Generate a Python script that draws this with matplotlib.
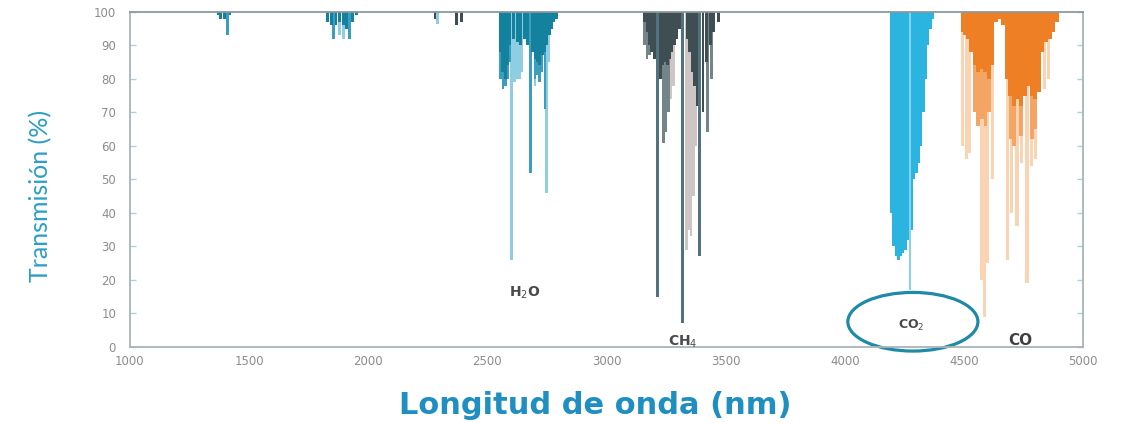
import matplotlib.pyplot as plt
from matplotlib.patches import Ellipse

# H2O absorption (nm, transmission %)
h2o_dark_wl = [1370, 1380, 1395, 1420, 1830, 1845, 1865, 1880, 1895, 1910, 1935, 1950,
               2555, 2565, 2575, 2585, 2595, 2610, 2625, 2640, 2655, 2670, 2690, 2700,
               2710, 2720, 2730, 2740, 2750, 2760, 2770, 2780, 2790]
h2o_dark_t = [99, 98, 98, 99, 97, 96, 96, 97, 96, 95, 97, 99,
              88, 82, 80, 84, 90, 92, 91, 90, 92, 90, 88, 86,
              85, 84, 87, 88, 90, 93, 95, 97, 98]
h2o_mid_wl = [1410, 1855, 1922, 2555, 2565, 2575, 2585, 2595, 2680, 2700, 2710, 2720, 2730, 2742]
h2o_mid_t = [93, 92, 92, 80, 77, 78, 80, 85, 52, 80, 81, 79, 82, 71]
h2o_light_wl = [1880, 1895, 2290, 2603, 2615, 2625, 2635, 2645, 2700, 2748, 2758]
h2o_light_t = [93, 92, 96.5, 26, 79, 80, 80, 82, 78, 46, 85]

# CH4 absorption
ch4_dark_wl = [2280, 2372, 2390, 3160, 3170, 3180, 3190, 3200, 3225, 3235, 3245, 3255, 3265,
               3275, 3285, 3295, 3305, 3340, 3350, 3360, 3370, 3380, 3405, 3420, 3435,
               3450, 3470]
ch4_dark_t = [98, 96, 97, 97, 94, 90, 88, 86, 80, 84, 85, 84, 86,
              88, 90, 92, 95, 92, 88, 82, 78, 72, 70, 85, 90,
              94, 97]
ch4_mid_wl = [3160, 3170, 3180, 3240, 3250, 3260, 3425, 3440]
ch4_mid_t = [90, 86, 87, 61, 64, 70, 64, 80]
ch4_light_wl = [3270, 3280, 3335, 3345, 3355, 3365, 3375]
ch4_light_t = [74, 78, 29, 35, 33, 45, 60]
ch4_line_wl = [3215, 3320, 3392]
ch4_line_t = [15, 7, 27]

# CO2 absorption
co2_wl = [4195, 4205, 4215, 4225, 4235, 4245, 4255, 4265, 4280, 4290, 4300, 4310,
          4320, 4330, 4340, 4350, 4360, 4370]
co2_t = [40, 30, 27, 26, 27, 28, 29, 32, 35, 50, 52, 55,
         60, 70, 80, 90, 95, 98]
co2_line_wl = [4275]
co2_line_t = [17]

# CO absorption
co_dark_wl = [4495, 4505, 4515, 4530, 4545, 4560, 4575, 4590, 4605, 4620, 4635, 4650,
              4665, 4680, 4695, 4710, 4725, 4740, 4755, 4770, 4785, 4800, 4815, 4830,
              4845, 4860, 4875, 4890]
co_dark_t = [94, 93, 92, 88, 84, 82, 83, 82, 80, 84, 97, 98,
             96, 80, 75, 72, 74, 72, 75, 78, 75, 74, 76, 88,
             91, 92, 94, 97]
co_mid_wl = [4545, 4560, 4575, 4590, 4605, 4695, 4710, 4740, 4785, 4800]
co_mid_t = [70, 66, 68, 66, 70, 62, 60, 63, 62, 65]
co_light_wl = [4495, 4510, 4525, 4575, 4588, 4600, 4620, 4685, 4700, 4723, 4740, 4765,
               4785, 4800, 4840, 4855]
co_light_t = [60, 56, 58, 20, 9, 25, 50, 26, 40, 36, 55, 19,
              54, 56, 77, 80]

x_ticks = [1000, 1500, 2000, 2500, 3000, 3500, 4000, 4500, 5000]
y_ticks = [0, 10, 20, 30, 40, 50, 60, 70, 80, 90, 100]


def hang(ax, wl, t, color, width):
    ax.bar(wl, [100 - v for v in t], bottom=t, width=width, color=color,
           linewidth=0, align='center')


fig = plt.figure(figsize=(11.4, 4.23), dpi=100)
ax = fig.add_axes([0.114, 0.18, 0.836, 0.792])

hang(ax, h2o_light_wl, h2o_light_t, '#8fcde2', 12)
hang(ax, h2o_mid_wl, h2o_mid_t, '#3a9fbf', 11)
hang(ax, h2o_dark_wl, h2o_dark_t, '#14829e', 12)

hang(ax, ch4_light_wl, ch4_light_t, '#cdc6c4', 11)
hang(ax, ch4_mid_wl, ch4_mid_t, '#74858a', 11)
hang(ax, ch4_dark_wl, ch4_dark_t, '#3f4e53', 12)
hang(ax, ch4_line_wl, ch4_line_t, '#51737f', 12)

hang(ax, co2_wl, co2_t, '#2bb4df', 11)
hang(ax, co2_line_wl, co2_line_t, '#86d2ec', 9)

hang(ax, co_light_wl, co_light_t, '#f9d3b2', 13)
hang(ax, co_mid_wl, co_mid_t, '#f4a463', 15)
hang(ax, co_dark_wl, co_dark_t, '#ef7f24', 16)

ax.set_xlim(1000, 5000)
ax.set_ylim(0, 100)
ax.set_xticks(x_ticks)
ax.set_yticks(y_ticks)
ax.tick_params(axis='both', labelsize=8.5, labelcolor='#8c8c8c', width=0)
ax.tick_params(axis='y', direction='in', length=4, width=1, color='#a9d3e0',
               right=True, pad=10)
ax.tick_params(axis='x', length=0, pad=6)
for s in ax.spines.values():
    s.set_color('#a9b3b8')
    s.set_linewidth(1.3)
ax.spines['top'].set_color('#8d979c')

# gas labels
ax.text(2658, 16, 'H$_2$O', color='#4a4a4a', fontsize=10, fontweight='bold',
        ha='center', va='center')
ax.text(3320, 1.5, 'CH$_4$', color='#4a4a4a', fontsize=10, fontweight='bold',
        ha='center', va='center', clip_on=False)
ax.text(4280, 6.5, 'CO$_2$', color='#4a4a4a', fontsize=9, fontweight='bold',
        ha='center', va='center')
ax.text(4735, 1.8, 'CO', color='#3f3f3f', fontsize=11, fontweight='bold',
        ha='center', va='center', clip_on=False)
ax.add_patch(Ellipse((4286, 7.5), 546, 17.5, fill=False, edgecolor='#1f8aa5',
                     linewidth=2.3, clip_on=False))

ax.set_ylabel('Transmisión (%)', color='#2a9fc6', fontsize=18,
              family=['Lato', 'DejaVu Sans'])
ax.yaxis.set_label_coords(-0.082, 0.45)
fig.text(0.522, 0.022, 'Longitud de onda (nm)', color='#1f8fc2', fontsize=22,
         fontweight='semibold', ha='center', va='baseline')

fig.savefig('out.png', dpi=100)
